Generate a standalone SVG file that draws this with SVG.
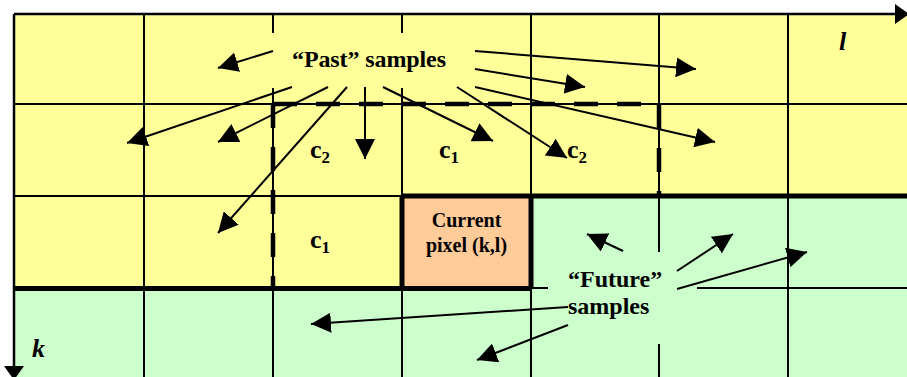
<svg xmlns="http://www.w3.org/2000/svg" width="907" height="377" viewBox="0 0 907 377">
<defs>
<style>
.grid{stroke:#000;stroke-width:2;fill:none}
.thick{stroke:#000;stroke-width:5;fill:none}
.dash{stroke:#000;stroke-width:4.5;fill:none;stroke-dasharray:24 19}
.arr{stroke:#000;stroke-width:2;fill:none;marker-end:url(#ah)}
.axis{stroke:#000;stroke-width:2.5;fill:none;marker-end:url(#axh)}
.lbl{font-family:"Liberation Serif","Times New Roman",serif;font-weight:bold;fill:#000}
.big{font-size:24px}
.mid{font-size:20px}
.cc{font-size:26px}
.sub{font-size:17px}
.ax{font-size:26px;font-style:italic}
</style>
<marker id="ah" viewBox="0 0 20 20" refX="20" refY="10" markerWidth="20" markerHeight="20" markerUnits="userSpaceOnUse" orient="auto">
<path d="M0,0 L20,10 L0,20 z" fill="#000"/>
</marker>
<marker id="axh" viewBox="0 0 14 20" refX="14" refY="10" markerWidth="14" markerHeight="20" markerUnits="userSpaceOnUse" orient="auto">
<path d="M0,0 L14,10 L0,20 z" fill="#000"/>
</marker>
</defs>
<rect x="0" y="0" width="907" height="377" fill="#fff"/>
<g id="regions">
<rect x="14" y="14" width="893" height="182" fill="#FFFF99"/>
<rect x="14" y="196" width="388" height="92" fill="#FFFF99"/>
<rect x="531" y="196" width="376" height="92" fill="#CCFFCC"/>
<rect x="14" y="288" width="893" height="89" fill="#CCFFCC"/>
</g>
<g id="grid">
<path class="grid" d="M144,14 V377 M273,14 V377 M402,14 V377 M531,14 V377 M659,14 V377 M788,14 V377 M14,104 H907 M14,196 H907 M14,288 H907"/>
</g>
<g id="current-pixel">
<rect x="402" y="196" width="129" height="92" fill="#FFCC99"/>
<path class="thick" d="M402,196 H907 M14,288.5 H531 M402,196 V288.5 M531,196 V288.5"/>
<text class="lbl mid" x="466.5" y="227" text-anchor="middle">Current</text>
<text class="lbl mid" x="466.5" y="252" text-anchor="middle">pixel (k,l)</text>
</g>
<g id="neighbourhood">
<path class="dash" d="M273,104 H659 V196"/>
<path class="dash" d="M273,104 V288"/>
</g>
<g id="past-label">
<rect x="271" y="33" width="205" height="55" fill="#FFFF99"/>
<text class="lbl big" x="292" y="67" textLength="154">“Past” samples</text>
</g>
<g id="future-label">
<rect x="548" y="252" width="149" height="92" fill="#CCFFCC"/>
<text class="lbl big" x="568" y="287">“Future”</text>
<text class="lbl big" x="568" y="314">samples</text>
</g>
<g id="connectors">
<line class="arr" x1="273" y1="51" x2="218" y2="68"/>
<line class="arr" x1="292" y1="87" x2="127" y2="143"/>
<line class="arr" x1="328" y1="87" x2="218" y2="142"/>
<line class="arr" x1="347" y1="87" x2="218" y2="233"/>
<line class="arr" x1="365" y1="87" x2="365" y2="159"/>
<line class="arr" x1="383" y1="87" x2="493" y2="141"/>
<line class="arr" x1="457" y1="87" x2="567" y2="158"/>
<line class="arr" x1="475" y1="87" x2="715" y2="142"/>
<line class="arr" x1="475" y1="69" x2="585" y2="87"/>
<line class="arr" x1="475" y1="51" x2="696" y2="69"/>
<line class="arr" x1="623" y1="251" x2="587" y2="234"/>
<line class="arr" x1="677" y1="271" x2="733" y2="234"/>
<line class="arr" x1="677" y1="289" x2="807" y2="252"/>
<line class="arr" x1="568" y1="307" x2="311" y2="324"/>
<line class="arr" x1="568" y1="325" x2="477" y2="360"/>
</g>
<g id="axes">
<line class="axis" x1="14" y1="14" x2="909" y2="14"/>
<line class="axis" x1="14" y1="14" x2="14" y2="380"/>
<text class="lbl ax" x="839" y="50">l</text>
<text class="lbl ax" x="32" y="357">k</text>
</g>
<g id="coeffs">
<text class="lbl cc" x="310" y="158">c<tspan class="sub" dy="5">2</tspan></text>
<text class="lbl cc" x="439" y="158">c<tspan class="sub" dy="5">1</tspan></text>
<text class="lbl cc" x="567" y="158">c<tspan class="sub" dy="5">2</tspan></text>
<text class="lbl cc" x="310" y="248">c<tspan class="sub" dy="5">1</tspan></text>
</g>
</svg>
